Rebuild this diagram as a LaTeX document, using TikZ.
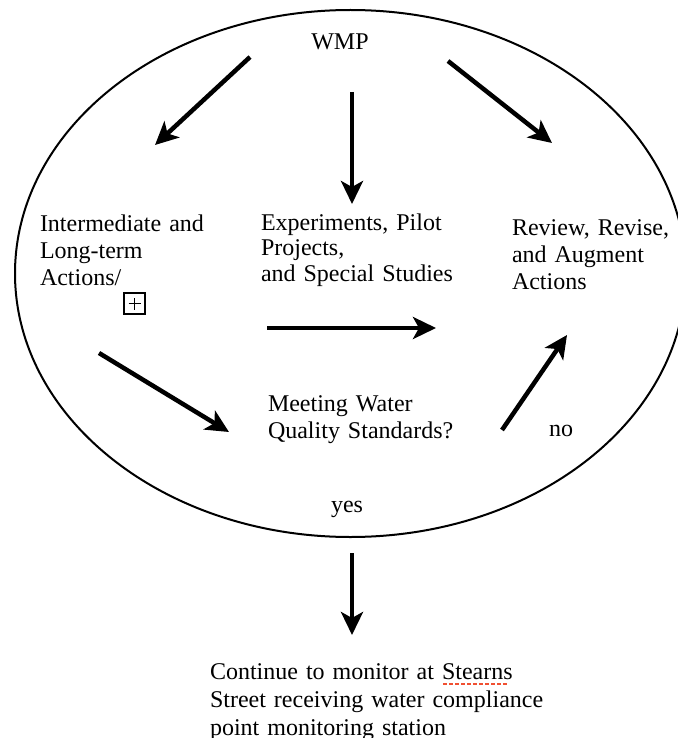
\documentclass[tikz,border=0pt]{standalone}
\usepackage{fontspec}
\setmainfont{Liberation Serif}
\usetikzlibrary{arrows.meta}
\tikzset{
  lbl/.style={inner sep=0pt, outer sep=0pt, anchor=base west, text width=#1, align=left},
  lbl/.default=300pt,
  txt/.style={font=\fontsize{24}{27}\selectfont},
  bigarrow/.style={line width=4.5pt, -{Stealth[length=23pt,width=22pt,inset=6pt]}},
  oval/.style={line width=2pt},
}
\begin{document}
\begin{tikzpicture}[x=1pt,y=-1pt]
\useasboundingbox (0,0) rectangle (677,738);
% big ellipse
\draw[oval] (350.4,273.5) ellipse [x radius=335.4, y radius=263.5];

% texts
\node[txt, inner sep=0pt, anchor=base] (wmp) at (340,50) {WMP};
\node[txt, lbl=200pt] (inter) at (40,231) {Intermediate and\\Long-term\\Actions/};
\node[txt, lbl=230pt, font=\fontsize{24}{25.5}\selectfont] (exp) at (261,230) {Experiments, Pilot\\Projects,\\and Special Studies};
\node[txt, lbl=170pt] (rev) at (512,235) {Review, Revise,\\and Augment\\Actions};
\node[txt, lbl=230pt] (meet) at (268,411) {Meeting Water\\Quality Standards?};
\node[txt, inner sep=0pt, anchor=base west] (no) at (549,436) {no};
\node[txt, inner sep=0pt, anchor=base] (yes) at (347,512) {yes};
\node[txt, lbl=400pt, font=\fontsize{24}{28}\selectfont] (cont) at (210,679)
  {Continue to monitor at Stearns\\Street receiving water compliance\\point monitoring station};

% boxed plus
\node[draw, line width=1.2pt, minimum size=21pt, inner sep=0pt, outer sep=0pt,
  path picture={\draw[line width=1.2pt] ([xshift=-6pt]path picture bounding box.center) -- ([xshift=6pt]path picture bounding box.center);
                \draw[line width=1.2pt] ([yshift=-6pt]path picture bounding box.center) -- ([yshift=6pt]path picture bounding box.center);}]
  (bplus) at (134.5,303.5) {};

% spell-check underline
\coordinate (ul1) at (443,684);
\coordinate (ul2) at (508,684);
\draw[color={rgb,255:red,240;green,80;blue,50}, line width=1.6pt, dash pattern=on 3.5pt off 2.5pt] (ul1) -- (ul2);

% arrow end points
\coordinate (a1) at (250,57);  \coordinate (a2) at (155,145);
\coordinate (b1) at (352,92);  \coordinate (b2) at (352,204);
\coordinate (c1) at (448,61);  \coordinate (c2) at (552,143);
\coordinate (h1) at (267,328); \coordinate (h2) at (436,328);
\coordinate (d1) at (99,353);  \coordinate (d2) at (229,432);
\coordinate (e1) at (502,430); \coordinate (e2) at (567,335);
\coordinate (f1) at (352,553); \coordinate (f2) at (352,635);

\draw[bigarrow] (a1) -- (a2);
\draw[bigarrow] (b1) -- (b2);
\draw[bigarrow] (c1) -- (c2);
\draw[bigarrow] (h1) -- (h2);
\draw[bigarrow] (d1) -- (d2);
\draw[bigarrow] (e1) -- (e2);
\draw[bigarrow] (f1) -- (f2);
\end{tikzpicture}
\end{document}
